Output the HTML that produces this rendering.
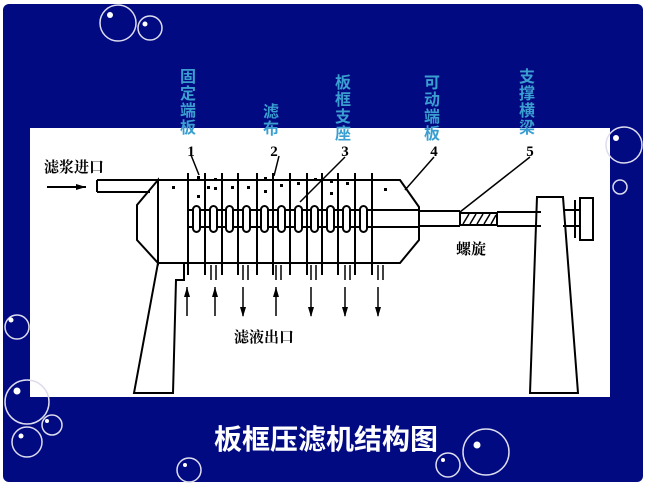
<!DOCTYPE html>
<html><head><meta charset="utf-8"><style>
html,body{margin:0;padding:0;background:#fff;}
svg{display:block;}
</style></head><body>
<svg width="648" height="486" viewBox="0 0 648 486" xmlns="http://www.w3.org/2000/svg">
<rect x="3" y="4" width="640" height="478" rx="6" fill="#020a82"/>
<rect x="30" y="128" width="580" height="269" fill="#fff"/>
<g fill="none" stroke="#dde" stroke-width="1.5">
<ellipse cx="118" cy="23" rx="18" ry="18"/><circle cx="150" cy="28" r="12"/>
<circle cx="624" cy="145" r="18"/><circle cx="620" cy="187" r="7"/>
<circle cx="17" cy="327" r="12"/><circle cx="27" cy="402" r="22"/>
<circle cx="52" cy="425" r="10"/><circle cx="27" cy="442" r="15"/>
<circle cx="486" cy="452" r="23"/><circle cx="448" cy="465" r="12"/>
<circle cx="189" cy="470" r="12"/>
</g>
<g fill="#fff">
<circle cx="110" cy="15" r="3"/><circle cx="145" cy="24" r="2.5"/><circle cx="616" cy="138" r="3"/>
<circle cx="11" cy="320" r="2.5"/><circle cx="17" cy="391" r="3.5"/><circle cx="47" cy="421" r="2"/>
<circle cx="21" cy="436" r="2.5"/><circle cx="477" cy="445" r="3.5"/><circle cx="443" cy="460" r="2"/><circle cx="185" cy="465" r="2"/>
</g>
<g fill="#3a9fd0" font-family="'Liberation Sans','Noto Sans CJK SC',sans-serif" font-weight="bold" font-size="16" text-anchor="middle">
<text x="188" y="82">固</text><text x="188" y="99">定</text><text x="188" y="116">端</text><text x="188" y="133">板</text>
<text x="271" y="117">滤</text><text x="271" y="134">布</text>
<text x="343" y="88">板</text><text x="343" y="105">框</text><text x="343" y="122">支</text><text x="343" y="139">座</text>
<text x="432" y="88">可</text><text x="432" y="105">动</text><text x="432" y="122">端</text><text x="432" y="139">板</text>
<text x="527" y="82">支</text><text x="527" y="99">撑</text><text x="527" y="116">横</text><text x="527" y="133">梁</text>
</g>
<g font-family="'Liberation Serif',serif" font-weight="bold" font-size="15" fill="#000" text-anchor="middle">
<text x="191" y="156">1</text><text x="274" y="156">2</text><text x="345" y="156">3</text><text x="434" y="156">4</text><text x="530" y="156">5</text>
</g>
<g font-family="'Liberation Sans','Noto Serif CJK SC',serif" font-weight="bold" font-size="15" fill="#000">
<text x="44" y="172">滤浆进口</text><text x="234" y="342">滤液出口</text><text x="456" y="254">螺旋</text>
</g>
<g fill="none" stroke="#000" stroke-width="2">
<path d="M47 187 H86"/>
<path d="M97 180 H158 M97 192 H150 M97 180 V192"/>
<path d="M158 180 L137 205 V240 L158 263 Z"/>
<path d="M158 180 H400 L419 207 V240 L400 263 H158"/>
<path d="M158 263 L134 393 H173 L176 280 H184 V263"/>
<path d="M419 211 H460 M419 226 H460 M460 213 H497 V225 H460 Z M497 212 H541 M497 226 H541"/>
<path d="M537 197 H563 L578 393 H530 Z"/>
<path d="M563 210 H580 M563 226 H580 M575 200 V238 M580 198 H593 V240 H580 Z"/>
<path d="M189 210 H419 M189 227 H419"/>
</g>
<g stroke="#000" stroke-width="2" fill="#fff">
<path d="M188 173 V275 M205 173 V275 M222 173 V275 M238 173 V275 M257 173 V275 M273 173 V275 M290 173 V275 M307 173 V275 M322 173 V275 M338 173 V275 M355 173 V275 M372 173 V275"/>
<rect x="193" y="206" width="7" height="26" rx="3.5"/><rect x="210" y="206" width="7" height="26" rx="3.5"/>
<rect x="226" y="206" width="7" height="26" rx="3.5"/><rect x="243" y="206" width="7" height="26" rx="3.5"/>
<rect x="261" y="206" width="7" height="26" rx="3.5"/><rect x="278" y="206" width="7" height="26" rx="3.5"/>
<rect x="295" y="206" width="7" height="26" rx="3.5"/><rect x="311" y="206" width="7" height="26" rx="3.5"/>
<rect x="327" y="206" width="7" height="26" rx="3.5"/><rect x="343" y="206" width="7" height="26" rx="3.5"/>
<rect x="360" y="206" width="7" height="26" rx="3.5"/>
</g>
<g stroke="#000" stroke-width="1.5">
<path d="M463 224 L469 214 M470 224 L476 214 M477 224 L483 214 M484 224 L490 214 M491 224 L496 215"/>
<path d="M199 175 L191 155 M274 176 L279 156 M300 202 L345 157 M405 190 L434 157 M460 212 L530 157"/>
<path d="M187 287 V316 M215 287 V316 M243 287 V316 M276 287 V316 M311 287 V316 M345 287 V316 M378 287 V316"/>
<path d="M211 265 V280 M216 265 V280 M243 265 V280 M248 265 V280 M276 265 V280 M281 265 V280 M311 265 V280 M316 265 V280 M345 265 V280 M350 265 V280 M378 265 V280 M383 265 V280"/>
</g>
<g fill="#000">
<path d="M184 297 L187 287 L190 297 Z"/><path d="M212 297 L215 287 L218 297 Z"/>
<path d="M240 307 L243 317 L246 307 Z"/><path d="M273 297 L276 287 L279 297 Z"/>
<path d="M308 307 L311 317 L314 307 Z"/><path d="M342 307 L345 317 L348 307 Z"/><path d="M375 307 L378 317 L381 307 Z"/>
<path d="M76 184 L86 187 L76 190 Z"/>
<rect x="172" y="186" width="3" height="3"/><rect x="207" y="186" width="3" height="3"/><rect x="197" y="176" width="3" height="3"/><rect x="197" y="195" width="3" height="3"/>
<rect x="214" y="178" width="3" height="3"/><rect x="214" y="187" width="3" height="3"/><rect x="231" y="186" width="3" height="3"/><rect x="247" y="186" width="3" height="3"/>
<rect x="264" y="177" width="3" height="3"/><rect x="264" y="190" width="3" height="3"/><rect x="280" y="184" width="3" height="3"/><rect x="297" y="182" width="3" height="3"/>
<rect x="314" y="178" width="3" height="3"/><rect x="330" y="180" width="3" height="3"/><rect x="330" y="192" width="3" height="3"/><rect x="346" y="182" width="3" height="3"/><rect x="384" y="188" width="3" height="3"/>
</g>
<text x="326" y="449" text-anchor="middle" font-family="'Liberation Sans','Noto Sans CJK SC',sans-serif" font-weight="bold" font-size="28" fill="#fff">板框压滤机结构图</text>
</svg>
</body></html>
